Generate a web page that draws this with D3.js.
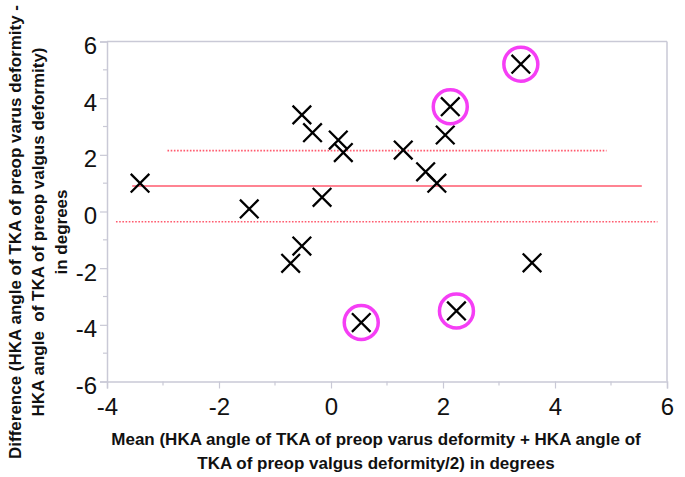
<!DOCTYPE html>
<html>
<head>
<meta charset="utf-8">
<script src="https://cdn.jsdelivr.net/npm/d3@7"></script>
<style>
  html, body { margin: 0; padding: 0; background: #fff; }
  svg { display: block; }
</style>
</head>
<body>
<svg id="chart" width="685" height="477"></svg>
<script>
// ---- data ----
const meanVals = [-3.41, -1.46, -0.52, -0.33, 0.13, 0.22, -0.16, -0.72, -0.52, 0.54, 1.29, 1.69, 1.89, 2.04, 2.13, 3.39, 2.24, 3.59];
const diffVals = [1.0, 0.09, 3.41, 2.78, 2.52, 2.08, 0.5, -1.83, -1.22, -3.92, 2.17, 1.40, 1.0, 2.7, 3.7, 5.2, -3.51, -1.81];
const circled = [false, false, false, false, false, false, false, false, false, true, false, false, false, false, true, true, true, false];
const xTicks = [-4, -2, 0, 2, 4, 6];
const yTicks = [-6, -4, -2, 0, 2, 4, 6];
const xMinor = [-3, -1, 1, 3, 5];
const yMinor = [-5, -3, -1, 1, 3, 5];
// reference lines: mean difference and limits of agreement
const refNames = ["upper", "mean", "lower"];
const refValues = [2.15, 0.9, -0.36];
const refStart = [-2.92, -3.55, -3.84];
const refEnd = [4.92, 5.55, 5.83];
const xTitleLines = ["Mean (HKA angle of TKA of preop varus deformity + HKA angle of", "TKA of preop valgus deformity/2) in degrees"];
const yTitleLines = ["Difference (HKA angle of TKA of preop varus deformity -", "HKA angle  of TKA of preop valgus deformity)", "in degrees"];

// ---- layout ----
const svg = d3.select("#chart");
const pLeft = 107, pRight = 667, pTop = 41.5, pBottom = 381.5;
const x = d3.scaleLinear().domain([-4, 6]).range([pLeft, pRight]);
const y = d3.scaleLinear().domain([-6, 6]).range([pBottom, pTop]);
const axisColor = "#c9c9d6";
const font = "'Liberation Sans', Arial, Helvetica, sans-serif";
const fmt = d => String(d);

// frame (top and right)
svg.append("line").attr("x1", pLeft).attr("x2", pRight).attr("y1", pTop).attr("y2", pTop)
  .attr("stroke", axisColor).attr("stroke-width", 1.5);
svg.append("line").attr("x1", pRight).attr("x2", pRight).attr("y1", pTop).attr("y2", pBottom)
  .attr("stroke", axisColor).attr("stroke-width", 1.5);

// axes
const xAxis = svg.append("g").attr("transform", `translate(0,${pBottom})`)
  .call(d3.axisBottom(x).tickValues(xTicks).tickSize(7).tickPadding(9).tickFormat(fmt));
const yAxis = svg.append("g").attr("transform", `translate(${pLeft},0)`)
  .call(d3.axisLeft(y).tickValues(yTicks).tickSize(7).tickPadding(3).tickFormat(fmt));
[xAxis, yAxis].forEach(g => {
  g.select(".domain").attr("stroke", axisColor).attr("stroke-width", 1.5);
  g.selectAll(".tick line").attr("stroke", axisColor).attr("stroke-width", 1.2);
  g.selectAll(".tick text").attr("fill", "#111").attr("font-family", font).attr("font-size", 24);
});
yAxis.selectAll(".tick text").attr("dy", "0.5em");
// minor ticks
svg.append("g").selectAll("line").data(xMinor).join("line")
  .attr("x1", d => x(d)).attr("x2", d => x(d)).attr("y1", pBottom).attr("y2", pBottom + 4)
  .attr("stroke", axisColor).attr("stroke-width", 1.2);
svg.append("g").selectAll("line").data(yMinor).join("line")
  .attr("x1", pLeft - 4).attr("x2", pLeft).attr("y1", d => y(d)).attr("y2", d => y(d))
  .attr("stroke", axisColor).attr("stroke-width", 1.2);

// reference lines
const refIdx = d3.range(refValues.length);
svg.append("g").selectAll("line").data(refIdx).join("line")
  .attr("x1", i => x(refStart[i])).attr("x2", i => x(refEnd[i]))
  .attr("y1", i => y(refValues[i])).attr("y2", i => y(refValues[i]))
  .attr("stroke", "#ff5a6e").attr("stroke-width", i => refNames[i] === "mean" ? 1.3 : 1.6)
  .attr("stroke-dasharray", i => refNames[i] === "mean" ? null : "1.6,1.6");

// points
const idx = d3.range(meanVals.length);
const s = 9.3;
const pts = svg.append("g").selectAll("g").data(idx).join("g")
  .attr("transform", i => `translate(${x(meanVals[i])},${y(diffVals[i])})`);
pts.append("path").attr("d", `M${-s},${-s}L${s},${s}M${-s},${s}L${s},${-s}`)
  .attr("stroke", "#000").attr("stroke-width", 2.3).attr("fill", "none");
pts.filter(i => circled[i]).append("circle").attr("r", 17).attr("fill", "none")
  .attr("stroke", "#f53ef5").attr("stroke-width", 3.5);

// titles
svg.append("g").selectAll("text").data(xTitleLines).join("text")
  .attr("x", 376).attr("y", (d, i) => 445 + i * 24)
  .attr("text-anchor", "middle").attr("font-family", font).attr("font-weight", "bold")
  .attr("font-size", 17).attr("fill", "#111").text(d => d);
svg.append("g").attr("transform", "translate(0,232) rotate(-90)")
  .selectAll("text").data(yTitleLines).join("text")
  .attr("x", 0).attr("y", (d, i) => 21 + i * 23)
  .attr("text-anchor", "middle").attr("font-family", font).attr("font-weight", "bold")
  .attr("font-size", 17).attr("fill", "#111").style("white-space", "pre").text(d => d);
</script>
</body>
</html>
